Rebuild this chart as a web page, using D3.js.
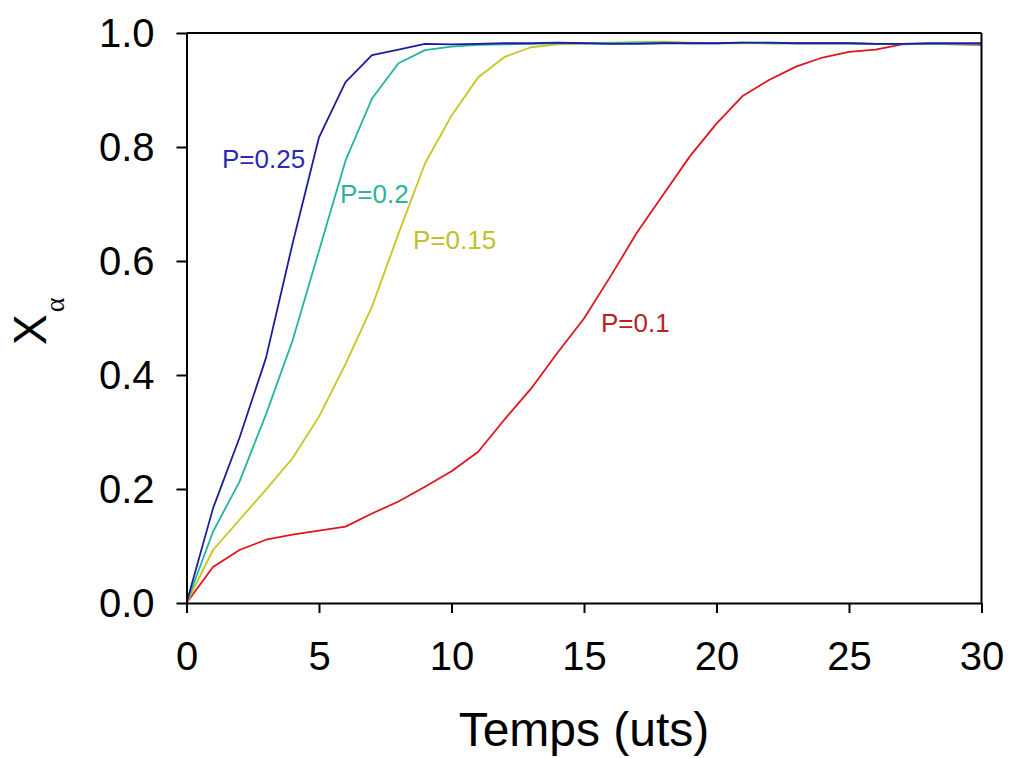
<!DOCTYPE html>
<html>
<head>
<meta charset="utf-8">
<script src="https://cdn.jsdelivr.net/npm/d3@7"></script>
<style>
  html, body { margin: 0; padding: 0; background: #fff; }
  svg { display: block; font-family: Arial, "Liberation Sans", sans-serif; }
</style>
</head>
<body>
<svg id="chart" width="1011" height="758"></svg>
<script>
const times = d3.range(0, 31);
const seriesNames = ["P=0.1", "P=0.15", "P=0.2", "P=0.25"];
const p010 = [0, 0.063, 0.093, 0.111, 0.120, 0.127, 0.134, 0.157, 0.178, 0.204, 0.231, 0.265, 0.322, 0.376, 0.439, 0.499, 0.573, 0.650, 0.717, 0.784, 0.841, 0.890, 0.918, 0.941, 0.957, 0.967, 0.971, 0.980, 0.981, 0.980, 0.979];
const p015 = [0, 0.093, 0.146, 0.199, 0.254, 0.327, 0.419, 0.520, 0.648, 0.771, 0.855, 0.922, 0.958, 0.975, 0.980, 0.982, 0.983, 0.984, 0.985, 0.983, 0.982, 0.982, 0.982, 0.982, 0.982, 0.982, 0.981, 0.981, 0.981, 0.981, 0.981];
const p020 = [0, 0.125, 0.213, 0.331, 0.460, 0.618, 0.776, 0.885, 0.947, 0.970, 0.976, 0.979, 0.980, 0.981, 0.982, 0.982, 0.982, 0.983, 0.983, 0.982, 0.982, 0.983, 0.982, 0.982, 0.982, 0.982, 0.981, 0.981, 0.981, 0.981, 0.981];
const p025 = [0, 0.166, 0.290, 0.430, 0.630, 0.817, 0.914, 0.961, 0.971, 0.981, 0.980, 0.981, 0.982, 0.982, 0.983, 0.982, 0.981, 0.981, 0.982, 0.982, 0.982, 0.983, 0.983, 0.982, 0.982, 0.982, 0.981, 0.981, 0.982, 0.982, 0.982];
const xTicks = [0, 5, 10, 15, 20, 25, 30];
const yTicks = [0, 0.2, 0.4, 0.6, 0.8, 1.0];

const svg = d3.select("#chart");
const mLeft = 186.5, mRight = 981.5, mTop = 33, mBottom = 603;
const x = d3.scaleLinear().domain([0, 30]).range([mLeft, mRight]);
const y = d3.scaleLinear().domain([0, 1]).range([mBottom, mTop]);

const series = [
  { name: seriesNames[0], values: p010, color: "#e0141e", labelColor: "#bb2026", lx: 601, ly: 332 },
  { name: seriesNames[1], values: p015, color: "#c6c61e", labelColor: "#bfbf2c", lx: 413, ly: 249 },
  { name: seriesNames[2], values: p020, color: "#22b59e", labelColor: "#2db39c", lx: 340, ly: 203 },
  { name: seriesNames[3], values: p025, color: "#1c1c9c", labelColor: "#2a2ab2", lx: 222, ly: 168 }
];

const line = d3.line().x((d, i) => x(times[i])).y(d => y(d));

series.forEach(s => {
  svg.append("path")
    .datum(s.values)
    .attr("fill", "none")
    .attr("stroke", s.color)
    .attr("stroke-width", 1.8)
    .attr("stroke-linejoin", "round")
    .attr("d", line);
});

// frame (top and right)
svg.append("line").attr("x1", mLeft).attr("x2", mRight).attr("y1", mTop).attr("y2", mTop)
  .attr("stroke", "#000").attr("stroke-width", 2);
svg.append("line").attr("x1", mRight).attr("x2", mRight).attr("y1", mTop).attr("y2", mBottom)
  .attr("stroke", "#000").attr("stroke-width", 2);

// axes
const xAxis = svg.append("g").attr("transform", `translate(0,${mBottom})`)
  .call(d3.axisBottom(x).tickValues(xTicks).tickSize(10).tickPadding(29).tickSizeOuter(0).tickFormat(d3.format("d")));
const yAxis = svg.append("g").attr("transform", `translate(${mLeft},0)`)
  .call(d3.axisLeft(y).tickValues(yTicks).tickSize(10).tickPadding(22).tickSizeOuter(0).tickFormat(d3.format(".1f")));

[xAxis, yAxis].forEach(g => {
  g.select(".domain").attr("stroke", "#000").attr("stroke-width", 2);
  g.selectAll(".tick line").attr("stroke", "#000").attr("stroke-width", 2);
  g.selectAll(".tick text").attr("fill", "#000")
    .style("font-family", "Arial, 'Liberation Sans', sans-serif")
    .style("font-size", "40px");
});
yAxis.selectAll(".tick text").attr("dy", "0.34em");

// series labels
series.forEach(s => {
  svg.append("text")
    .attr("x", s.lx).attr("y", s.ly)
    .attr("fill", s.labelColor)
    .style("font-size", "26px")
    .text(s.name);
});

// axis titles
svg.append("text")
  .attr("x", 584).attr("y", 746)
  .attr("text-anchor", "middle")
  .attr("fill", "#000")
  .style("font-size", "48px")
  .text("Temps (uts)");

const yt = svg.append("text")
  .attr("transform", "translate(46,345) rotate(-90)")
  .attr("fill", "#000")
  .style("font-size", "46px");
yt.append("tspan").text("X");
yt.append("tspan")
  .attr("dy", 18)
  .attr("dx", 2)
  .style("font-size", "28px")
  .style("font-family", "'Liberation Serif', 'DejaVu Serif', serif")
  .text("α");
</script>
</body>
</html>
